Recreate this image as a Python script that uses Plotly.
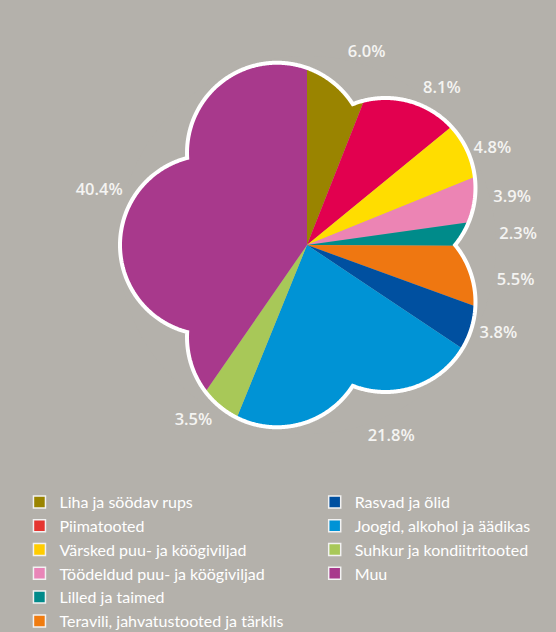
import math
import plotly.graph_objects as go

# ---- data ----
categories = [
    "Liha ja söödav rups",
    "Piimatooted",
    "Värsked puu- ja köögiviljad",
    "Töödeldud puu- ja köögiviljad",
    "Lilled ja taimed",
    "Teravili, jahvatustooted ja tärklis",
    "Rasvad ja õlid",
    "Joogid, alkohol ja äädikas",
    "Suhkur ja kondiitritooted",
    "Muu",
]
shares = [6.0, 8.1, 4.8, 3.9, 2.3, 5.5, 3.8, 21.8, 3.5, 40.4]
slice_colors = ["#9A8400", "#E2004F", "#FFDD00", "#EC84B4", "#008B8A",
                "#EF7711", "#0050A0", "#0093D5", "#A8C858", "#A8398C"]
legend_colors = ["#9A8400", "#E53530", "#FFCC00", "#E985B8", "#008A8A",
                 "#F07C10", "#0050A0", "#0093D6", "#A8C858", "#A8398C"]
legend_col1 = categories[:6]
legend_col2 = categories[6:]

BG = "#B4B1AB"
W, H = 556, 632
CX, CY = 307, 245          # pie centre in px
R = 187                    # pie radius px

fig = go.Figure()

fig.add_trace(go.Pie(
    labels=categories, values=shares,
    marker=dict(colors=slice_colors, line=dict(width=0)),
    sort=False, direction="clockwise", rotation=0,
    text=[f"{v:.1f}%" for v in shares], textinfo="text",
    textposition="outside",
    textfont=dict(family="Open Sans", size=16.5, color="#F4F4F2", weight=600),
    domain=dict(x=[(CX - R) / W, (CX + R) / W], y=[1 - (CY + R) / H, 1 - (CY - R) / H]),
    showlegend=False, hoverinfo="label+percent",
))

# legend entries (two columns)
for i, name in enumerate(categories):
    fig.add_trace(go.Scatter(
        x=[None], y=[None], mode="markers", name=name,
        marker=dict(symbol="square", size=12, color=legend_colors[i],
                    line=dict(color="#F2F2F2", width=1.5)),
        legend="legend" if name in legend_col1 else "legend2",
        hoverinfo="skip",
    ))

# flower-shaped outline (decorative)
d, rp = 97.0, 90.0
pts = []
N = 1440
for k in range(N + 1):
    phi = 360.0 * k / N
    rel = ((phi - 54) % 72)
    if rel > 36:
        rel -= 72
    a = math.radians(rel)
    r = d * math.cos(a) + math.sqrt(max(rp * rp - (d * math.sin(a)) ** 2, 0))
    pr = math.radians(phi)
    pts.append((CX + r * math.sin(pr), CY - r * math.cos(pr)))
flower = "M " + " L ".join(f"{x:.2f},{y:.2f}" for x, y in pts) + " Z"
Ro = R + 2
circ = []
for k in range(361):
    pr = math.radians(k)
    circ.append((CX + Ro * math.sin(pr), CY - Ro * math.cos(pr)))
circle = "M " + " L ".join(f"{x:.2f},{y:.2f}" for x, y in circ) + " Z"

fig.add_shape(type="path", path=circle + " " + flower, xref="x", yref="y",
              fillcolor=BG, fillrule="evenodd", line=dict(width=0), layer="above")
fig.add_shape(type="path", path=flower, xref="x", yref="y",
              line=dict(color="white", width=4), fillcolor="rgba(0,0,0,0)", layer="above")

legend_style = dict(font=dict(family="Lato", size=16, color="#FFFFFF"),
                    bgcolor="rgba(0,0,0,0)", borderwidth=0,
                    yanchor="top", xanchor="left", tracegroupgap=0, itemwidth=30)
fig.update_layout(
    width=W, height=H,
    margin=dict(l=0, r=0, t=0, b=0, autoexpand=False),
    paper_bgcolor=BG, plot_bgcolor=BG,
    xaxis=dict(range=[0, W], visible=False, fixedrange=True),
    yaxis=dict(range=[H, 0], visible=False, fixedrange=True),
    legend=dict(x=0.035, y=1 - 485 / H, **legend_style),
    legend2=dict(x=0.566, y=1 - 485 / H, **legend_style),
    showlegend=True,
)

fig.write_html("out.html", config={"displayModeBar": False},
               post_script="document.body.style.margin='0';document.body.style.background='" + BG + "';")
